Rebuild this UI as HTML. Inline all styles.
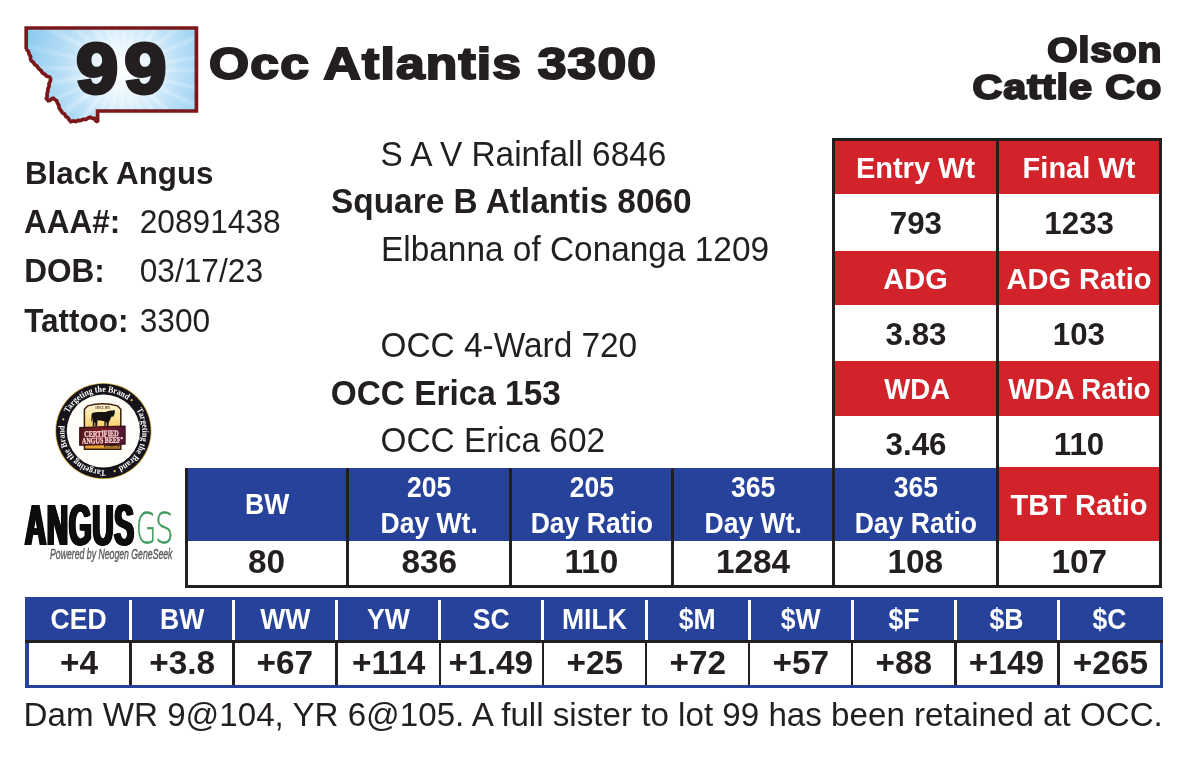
<!DOCTYPE html>
<html lang="en">
<head>
<meta charset="utf-8">
<title>Lot 99 - Occ Atlantis 3300</title>
<style>
html,body{margin:0;padding:0;background:#fff;}
body{width:1186px;height:759px;position:relative;overflow:hidden;font-family:"Liberation Sans",Arial,Helvetica,sans-serif;color:#231f20;}
.t{position:absolute;white-space:nowrap;line-height:1;margin:0;padding:0;transform-origin:0 84.65%;}
.m{transform:scaleY(1.025);}
.d{transform:scaleY(1.04);}
.b{font-weight:bold;}
.box{position:absolute;}
.cell{position:absolute;display:flex;align-items:center;justify-content:center;text-align:center;white-space:nowrap;line-height:1;}
.cell span{display:inline-block;}
.mh{line-height:35px;}
.w{color:#fff;}
.red{background:#d2232a;}
.blue{background:#27429b;}
.k{background:#231f20;}
.wbg{background:#fff;}
</style>
</head>
<body>

<!-- Montana lot badge -->
<svg class="box" style="left:18px;top:20px" width="190" height="112" viewBox="18 20 190 112">
  <defs>
    <radialGradient id="sun" cx="123" cy="70" r="100" gradientUnits="userSpaceOnUse">
      <stop offset="0" stop-color="#ffffff"/>
      <stop offset=".3" stop-color="#e2f2fc"/>
      <stop offset=".6" stop-color="#b7def6"/>
      <stop offset="1" stop-color="#8ecbf0"/>
    </radialGradient>
    <radialGradient id="rayfade" cx="123" cy="70" r="100" gradientUnits="userSpaceOnUse">
      <stop offset="0" stop-color="#fff" stop-opacity=".7"/>
      <stop offset=".55" stop-color="#fff" stop-opacity=".28"/>
      <stop offset="1" stop-color="#fff" stop-opacity=".08"/>
    </radialGradient>
    <filter id="soft" x="-10%" y="-10%" width="120%" height="120%"><feGaussianBlur stdDeviation="1.1"/></filter>
    <clipPath id="mtclip"><path d="M26.2 28 H196.4 V111 H97.6 V122.2 L95.6 120.4 L94.2 118.4 L92.4 118.4 L90.4 117.2 L88.4 118.0 L86.0 119.4 L83.0 119.4 L80.4 120.6 L78.0 120.4 L75.9 121.6 L73.4 121.0 L70.8 121.6 L69.2 120.0 L68.0 117.8 L65.8 116.4 L64.6 114.0 L62.4 112.8 L60.8 110.4 L59.2 108.0 L58.8 105.4 L57.4 103.0 L56.6 100.6 L55.0 99.8 L53.4 98.2 L51.6 98.6 L50.2 100.2 L48.2 100.6 L46.4 98.4 L47.2 96.4 L47.0 94.0 L47.8 91.4 L48.0 88.6 L49.2 86.0 L49.0 83.6 L50.2 81.4 L50.6 79.2 L49.6 77.0 L46.6 76.2 L45.0 74.4 L42.4 72.8 L41.0 70.6 L38.6 68.6 L37.2 66.2 L34.8 64.6 L33.4 62.2 L31.2 60.8 L30.4 58.6 L30.6 56.4 L29.3 54.6 L28.8 52.6 L27.6 50.2 L25.9 49.0 L26.2 49 Z"/></clipPath>
  </defs>
  <path d="M26.2 28 H196.4 V111 H97.6 V122.2 L95.6 120.4 L94.2 118.4 L92.4 118.4 L90.4 117.2 L88.4 118.0 L86.0 119.4 L83.0 119.4 L80.4 120.6 L78.0 120.4 L75.9 121.6 L73.4 121.0 L70.8 121.6 L69.2 120.0 L68.0 117.8 L65.8 116.4 L64.6 114.0 L62.4 112.8 L60.8 110.4 L59.2 108.0 L58.8 105.4 L57.4 103.0 L56.6 100.6 L55.0 99.8 L53.4 98.2 L51.6 98.6 L50.2 100.2 L48.2 100.6 L46.4 98.4 L47.2 96.4 L47.0 94.0 L47.8 91.4 L48.0 88.6 L49.2 86.0 L49.0 83.6 L50.2 81.4 L50.6 79.2 L49.6 77.0 L46.6 76.2 L45.0 74.4 L42.4 72.8 L41.0 70.6 L38.6 68.6 L37.2 66.2 L34.8 64.6 L33.4 62.2 L31.2 60.8 L30.4 58.6 L30.6 56.4 L29.3 54.6 L28.8 52.6 L27.6 50.2 L25.9 49.0 L26.2 49 Z" fill="url(#sun)"/>
  <g clip-path="url(#mtclip)"><path d="M123 70 L263.0 67.8 L262.9 74.2 Z M123 70 L259.7 100.3 L258.0 107.0 Z M123 70 L250.7 127.4 L246.7 135.5 Z M123 70 L230.2 160.0 L221.9 169.1 Z M123 70 L208.5 180.8 L202.5 185.2 Z M123 70 L183.5 196.3 L176.2 199.5 Z M123 70 L156.8 205.9 L150.5 207.3 Z M123 70 L125.4 210.0 L112.0 209.6 Z M123 70 L89.2 205.8 L77.3 202.3 Z M123 70 L60.0 195.0 L53.6 191.6 Z M123 70 L37.0 180.4 L28.7 173.4 Z M123 70 L12.3 155.8 L5.0 145.3 Z M123 70 L-4.5 127.9 L-7.0 122.0 Z M123 70 L-13.7 100.3 L-15.7 89.2 Z M123 70 L-17.0 69.9 L-16.8 62.9 Z M123 70 L-13.5 39.1 L-12.0 32.9 Z M123 70 L-1.5 6.0 L4.9 -5.2 Z M123 70 L13.8 -17.6 L19.1 -23.8 Z M123 70 L38.4 -41.6 L46.9 -47.5 Z M123 70 L65.2 -57.5 L77.0 -62.2 Z M123 70 L91.9 -66.5 L100.8 -68.2 Z M123 70 L123.8 -70.0 L133.0 -69.6 Z M123 70 L151.4 -67.1 L159.3 -65.2 Z M123 70 L186.1 -55.0 L191.4 -52.2 Z M123 70 L207.3 -41.8 L215.7 -34.9 Z M123 70 L231.3 -18.7 L237.4 -10.7 Z M123 70 L249.0 9.0 L252.5 16.8 Z M123 70 L260.4 42.9 L261.6 50.1 Z" fill="url(#rayfade)" filter="url(#soft)"/></g>
  <path d="M26.2 28 H196.4 V111 H97.6 V122.2 L95.6 120.4 L94.2 118.4 L92.4 118.4 L90.4 117.2 L88.4 118.0 L86.0 119.4 L83.0 119.4 L80.4 120.6 L78.0 120.4 L75.9 121.6 L73.4 121.0 L70.8 121.6 L69.2 120.0 L68.0 117.8 L65.8 116.4 L64.6 114.0 L62.4 112.8 L60.8 110.4 L59.2 108.0 L58.8 105.4 L57.4 103.0 L56.6 100.6 L55.0 99.8 L53.4 98.2 L51.6 98.6 L50.2 100.2 L48.2 100.6 L46.4 98.4 L47.2 96.4 L47.0 94.0 L47.8 91.4 L48.0 88.6 L49.2 86.0 L49.0 83.6 L50.2 81.4 L50.6 79.2 L49.6 77.0 L46.6 76.2 L45.0 74.4 L42.4 72.8 L41.0 70.6 L38.6 68.6 L37.2 66.2 L34.8 64.6 L33.4 62.2 L31.2 60.8 L30.4 58.6 L30.6 56.4 L29.3 54.6 L28.8 52.6 L27.6 50.2 L25.9 49.0 L26.2 49 Z" fill="none" stroke="#7a181b" stroke-width="3.7" stroke-linejoin="miter" stroke-miterlimit="1.6"/>
</svg>



<!-- Heavy headline text (lot number, animal name, owner) -->
<svg class="box" id="heavy" style="left:0;top:0" width="1186" height="135" font-family="'Liberation Sans',Arial,Helvetica,sans-serif" font-weight="bold" fill="#231f20" stroke="#231f20" stroke-linejoin="miter" stroke-miterlimit="3">
  <text id="lot" transform="translate(76.2,93.4) scale(1.073,1)" font-size="69.9" letter-spacing="6.2" stroke-width="4">99</text>
  <text id="title" transform="translate(209,79.3) scale(1.183,1.03)" font-size="43.6" letter-spacing="1" stroke-width="2">Occ Atlantis 3300</text>
  <text id="own1" transform="translate(1162.2,61.7) scale(1.115,1)" font-size="35" letter-spacing=".8" stroke-width="2" text-anchor="end">Olson</text>
  <text id="own2" transform="translate(1162.2,98.8) scale(1.18,1)" font-size="35" letter-spacing=".8" stroke-width="2" text-anchor="end">Cattle Co</text>
</svg>

<!-- Left info -->
<div class="t b m" id="breed" style="left:25px;top:157.5px;font-size:31.3px">Black Angus</div>
<div class="t b m" id="l1" style="left:24px;top:206.5px;font-size:31.5px">AAA#:</div>
<div class="t d" id="v1" style="left:139.7px;top:206.5px;font-size:31.7px">20891438</div>
<div class="t b m" id="l2" style="left:24.3px;top:256.3px;font-size:31.5px">DOB:</div>
<div class="t d" id="v2" style="left:139.7px;top:256.3px;font-size:31.7px">03/17/23</div>
<div class="t b m" id="l3" style="left:24.2px;top:306.3px;font-size:31.5px">Tattoo:</div>
<div class="t d" id="v3" style="left:139.7px;top:306.3px;font-size:31.7px">3300</div>

<!-- Pedigree -->
<div class="t m" id="p1" style="left:380.5px;top:137.5px;font-size:33.4px">S A V Rainfall 6846</div>
<div class="t b m" id="p2" style="left:331px;top:185.3px;font-size:33.4px">Square B Atlantis 8060</div>
<div class="t m" id="p3" style="left:381px;top:233.1px;font-size:33.4px">Elbanna of Conanga 1209</div>
<div class="t m" id="p4" style="left:380.5px;top:328.7px;font-size:33.4px">OCC 4-Ward 720</div>
<div class="t b m" id="p5" style="left:330.7px;top:376.5px;font-size:33.4px">OCC Erica 153</div>
<div class="t m" id="p6" style="left:380.5px;top:424.3px;font-size:33.4px">OCC Erica 602</div>

<!-- Footnote -->
<div class="t m" id="foot" style="left:23.5px;top:697.9px;font-size:33.17px">Dam WR 9@104, YR 6@105. A full sister to lot 99 has been retained at OCC.</div>

<!-- performance table -->
<div class="box red" style="left:833px;top:140.5px;width:328px;height:53.5px"></div>
<div class="box red" style="left:833px;top:251px;width:328px;height:54px"></div>
<div class="box red" style="left:833px;top:361px;width:328px;height:54.5px"></div>
<div class="cell w b" style="left:835px;top:140.5px;width:161px;height:53.5px;font-size:29px;"><span style="transform:translate(0px,0.6px) scale(1.0,1.04);">Entry Wt</span></div>
<div class="cell w b" style="left:999px;top:140.5px;width:160px;height:53.5px;font-size:29px;"><span style="transform:translate(0px,0.6px) scale(1.0,1.04);">Final Wt</span></div>
<div class="cell b" style="left:835px;top:194px;width:161px;height:57px;font-size:29.8px;"><span style="transform:translate(0px,0.3px) scale(1.05,1.04);">793</span></div>
<div class="cell b" style="left:999px;top:194px;width:160px;height:57px;font-size:29.8px;"><span style="transform:translate(0px,0.3px) scale(1.05,1.04);">1233</span></div>
<div class="cell w b" style="left:835px;top:251px;width:161px;height:54px;font-size:29px;"><span style="transform:translate(0px,0.6px) scale(1.0,1.04);">ADG</span></div>
<div class="cell w b" style="left:999px;top:251px;width:160px;height:54px;font-size:29px;"><span style="transform:translate(0px,0.6px) scale(1.0,1.04);">ADG Ratio</span></div>
<div class="cell b" style="left:835px;top:305px;width:161px;height:56px;font-size:29.8px;"><span style="transform:translate(0px,1.8px) scale(1.05,1.04);">3.83</span></div>
<div class="cell b" style="left:999px;top:305px;width:160px;height:56px;font-size:29.8px;"><span style="transform:translate(0px,1.8px) scale(1.05,1.04);">103</span></div>
<div class="cell w b" style="left:835px;top:361px;width:161px;height:54.5px;font-size:29px;"><span style="transform:translate(1.5px,0.6px) scale(0.95,1.04);">WDA</span></div>
<div class="cell w b" style="left:999px;top:361px;width:160px;height:54.5px;font-size:29px;"><span style="transform:translate(0px,0.6px) scale(0.957,1.04);">WDA Ratio</span></div>
<div class="cell b" style="left:835px;top:415.5px;width:161px;height:51.5px;font-size:29.8px;"><span style="transform:translate(0px,3.8px) scale(1.05,1.04);">3.46</span></div>
<div class="cell b" style="left:999px;top:415.5px;width:160px;height:51.5px;font-size:29.8px;"><span style="transform:translate(0px,3.8px) scale(1.05,1.04);">110</span></div>
<!-- weights table -->
<div class="box blue" style="left:186px;top:467.5px;width:811.5px;height:73.5px"></div>
<div class="box red" style="left:997.5px;top:467px;width:163.5px;height:74px"></div>
<div class="cell w b mh" style="left:187.5px;top:468px;width:158.5px;height:73px;font-size:29px;"><span style="transform:translate(0px,0px) scale(0.915,1.04);">BW</span></div>
<div class="cell w b mh" style="left:349px;top:468px;width:160px;height:73px;font-size:29px;"><span style="transform:translate(0px,0px) scale(0.915,1.04);">205<br>Day Wt.</span></div>
<div class="cell w b mh" style="left:512px;top:468px;width:159px;height:73px;font-size:29px;"><span style="transform:translate(0px,0px) scale(0.915,1.04);">205<br>Day Ratio</span></div>
<div class="cell w b mh" style="left:674px;top:468px;width:158px;height:73px;font-size:29px;"><span style="transform:translate(0px,0px) scale(0.915,1.04);">365<br>Day Wt.</span></div>
<div class="cell w b mh" style="left:835px;top:468px;width:161px;height:73px;font-size:29px;"><span style="transform:translate(0px,0px) scale(0.915,1.04);">365<br>Day Ratio</span></div>
<div class="cell w b" style="left:999px;top:467px;width:160px;height:74px;font-size:29px;"><span style="transform:translate(0px,0.5px) scale(1.0,1.04);">TBT Ratio</span></div>
<div class="cell b" style="left:187.5px;top:541px;width:158.5px;height:44.4px;font-size:31.5px;"><span style="transform:translate(0px,0px) scale(1.06,1.04);">80</span></div>
<div class="cell b" style="left:349px;top:541px;width:160px;height:44.4px;font-size:31.5px;"><span style="transform:translate(0px,0px) scale(1.06,1.04);">836</span></div>
<div class="cell b" style="left:512px;top:541px;width:159px;height:44.4px;font-size:31.5px;"><span style="transform:translate(0px,0px) scale(1.06,1.04);">110</span></div>
<div class="cell b" style="left:674px;top:541px;width:158px;height:44.4px;font-size:31.5px;"><span style="transform:translate(0px,0px) scale(1.06,1.04);">1284</span></div>
<div class="cell b" style="left:835px;top:541px;width:161px;height:44.4px;font-size:31.5px;"><span style="transform:translate(0px,0px) scale(1.06,1.04);">108</span></div>
<div class="cell b" style="left:999px;top:541px;width:160px;height:44.4px;font-size:31.5px;"><span style="transform:translate(0px,0px) scale(1.06,1.04);">107</span></div>
<!-- borders -->
<div class="box k" style="left:832px;top:138px;width:330px;height:2.7px"></div>
<div class="box k" style="left:832px;top:138px;width:3px;height:330px"></div>
<div class="box k" style="left:1159px;top:138px;width:3px;height:449.7px"></div>
<div class="box k" style="left:996px;top:138px;width:3px;height:449.7px"></div>
<div class="box k" style="left:184.5px;top:467.5px;width:3.0px;height:120.2px"></div>
<div class="box k" style="left:184.5px;top:585.2px;width:977.5px;height:2.5px"></div>
<div class="box k" style="left:346px;top:467.5px;width:3px;height:120.2px"></div>
<div class="box k" style="left:509px;top:467.5px;width:3px;height:120.2px"></div>
<div class="box k" style="left:671px;top:467.5px;width:3px;height:120.2px"></div>
<div class="box k" style="left:832px;top:467.5px;width:3px;height:120.2px"></div>
<!-- EPD table -->
<div class="box blue" style="left:25px;top:597px;width:1138px;height:91px"></div>
<div class="box wbg" style="left:28.7px;top:642.8px;width:1131.5px;height:42.2px"></div>
<div class="box k" style="left:25px;top:640.3px;width:1138px;height:2.5px"></div>
<div class="cell w b" style="left:28.7px;top:599px;width:100.4px;height:41.3px;font-size:29px;"><span style="transform:translate(0px,0px) scale(0.915,1.04);">CED</span></div>
<div class="cell b" style="left:28.7px;top:642.8px;width:100.4px;height:42.2px;font-size:31.5px;"><span style="transform:translate(0px,-0.5px) scale(1.06,1.04);">+4</span></div>
<div class="cell w b" style="left:131.9px;top:599px;width:100.3px;height:41.3px;font-size:29px;"><span style="transform:translate(0px,0px) scale(0.915,1.04);">BW</span></div>
<div class="cell b" style="left:131.9px;top:642.8px;width:100.3px;height:42.2px;font-size:31.5px;"><span style="transform:translate(0px,-0.5px) scale(1.06,1.04);">+3.8</span></div>
<div class="cell w b" style="left:235.0px;top:599px;width:100.3px;height:41.3px;font-size:29px;"><span style="transform:translate(0px,0px) scale(0.915,1.04);">WW</span></div>
<div class="cell b" style="left:235.0px;top:642.8px;width:100.3px;height:42.2px;font-size:31.5px;"><span style="transform:translate(0px,-0.5px) scale(1.06,1.04);">+67</span></div>
<div class="cell w b" style="left:338.09999999999997px;top:599px;width:100.3px;height:41.3px;font-size:29px;"><span style="transform:translate(0px,0px) scale(0.915,1.04);">YW</span></div>
<div class="cell b" style="left:338.09999999999997px;top:642.8px;width:100.3px;height:42.2px;font-size:31.5px;"><span style="transform:translate(0px,-0.5px) scale(1.06,1.04);">+114</span></div>
<div class="cell w b" style="left:441.19999999999993px;top:599px;width:100.3px;height:41.3px;font-size:29px;"><span style="transform:translate(0px,0px) scale(0.915,1.04);">SC</span></div>
<div class="cell b" style="left:441.19999999999993px;top:642.8px;width:100.3px;height:42.2px;font-size:31.5px;"><span style="transform:translate(0px,-0.5px) scale(1.06,1.04);">+1.49</span></div>
<div class="cell w b" style="left:544.3px;top:599px;width:100.3px;height:41.3px;font-size:29px;"><span style="transform:translate(0px,0px) scale(0.915,1.04);">MILK</span></div>
<div class="cell b" style="left:544.3px;top:642.8px;width:100.3px;height:42.2px;font-size:31.5px;"><span style="transform:translate(0px,-0.5px) scale(1.06,1.04);">+25</span></div>
<div class="cell w b" style="left:647.4px;top:599px;width:100.3px;height:41.3px;font-size:29px;"><span style="transform:translate(0px,0px) scale(0.915,1.04);">$M</span></div>
<div class="cell b" style="left:647.4px;top:642.8px;width:100.3px;height:42.2px;font-size:31.5px;"><span style="transform:translate(0px,-0.5px) scale(1.06,1.04);">+72</span></div>
<div class="cell w b" style="left:750.4999999999999px;top:599px;width:100.3px;height:41.3px;font-size:29px;"><span style="transform:translate(0px,0px) scale(0.915,1.04);">$W</span></div>
<div class="cell b" style="left:750.4999999999999px;top:642.8px;width:100.3px;height:42.2px;font-size:31.5px;"><span style="transform:translate(0px,-0.5px) scale(1.06,1.04);">+57</span></div>
<div class="cell w b" style="left:853.5999999999999px;top:599px;width:100.3px;height:41.3px;font-size:29px;"><span style="transform:translate(0px,0px) scale(0.915,1.04);">$F</span></div>
<div class="cell b" style="left:853.5999999999999px;top:642.8px;width:100.3px;height:42.2px;font-size:31.5px;"><span style="transform:translate(0px,-0.5px) scale(1.06,1.04);">+88</span></div>
<div class="cell w b" style="left:956.6999999999999px;top:599px;width:100.3px;height:41.3px;font-size:29px;"><span style="transform:translate(0px,0px) scale(0.915,1.04);">$B</span></div>
<div class="cell b" style="left:956.6999999999999px;top:642.8px;width:100.3px;height:42.2px;font-size:31.5px;"><span style="transform:translate(0px,-0.5px) scale(1.06,1.04);">+149</span></div>
<div class="cell w b" style="left:1059.8000000000002px;top:599px;width:100.4px;height:41.3px;font-size:29px;"><span style="transform:translate(0px,0px) scale(0.915,1.04);">$C</span></div>
<div class="cell b" style="left:1059.8000000000002px;top:642.8px;width:100.4px;height:42.2px;font-size:31.5px;"><span style="transform:translate(0px,-0.5px) scale(1.06,1.04);">+265</span></div>
<div class="box wbg" style="left:129.0px;top:600px;width:3.0px;height:40px"></div>
<div class="box k" style="left:129.2px;top:640.3px;width:2.6px;height:44.9px"></div>
<div class="box wbg" style="left:232.1px;top:600px;width:3.0px;height:40px"></div>
<div class="box k" style="left:232.3px;top:640.3px;width:2.6px;height:44.9px"></div>
<div class="box wbg" style="left:335.2px;top:600px;width:3.0px;height:40px"></div>
<div class="box k" style="left:335.4px;top:640.3px;width:2.6px;height:44.9px"></div>
<div class="box wbg" style="left:438.3px;top:600px;width:3.0px;height:40px"></div>
<div class="box k" style="left:438.5px;top:640.3px;width:2.6px;height:44.9px"></div>
<div class="box wbg" style="left:541.4px;top:600px;width:3.0px;height:40px"></div>
<div class="box k" style="left:541.6px;top:640.3px;width:2.6px;height:44.9px"></div>
<div class="box wbg" style="left:644.5px;top:600px;width:3.0px;height:40px"></div>
<div class="box k" style="left:644.7px;top:640.3px;width:2.6px;height:44.9px"></div>
<div class="box wbg" style="left:747.6px;top:600px;width:3.0px;height:40px"></div>
<div class="box k" style="left:747.8px;top:640.3px;width:2.6px;height:44.9px"></div>
<div class="box wbg" style="left:850.7px;top:600px;width:3.0px;height:40px"></div>
<div class="box k" style="left:850.9px;top:640.3px;width:2.6px;height:44.9px"></div>
<div class="box wbg" style="left:953.8px;top:600px;width:3.0px;height:40px"></div>
<div class="box k" style="left:954.0px;top:640.3px;width:2.6px;height:44.9px"></div>
<div class="box wbg" style="left:1056.9px;top:600px;width:3.0px;height:40px"></div>
<div class="box k" style="left:1057.1px;top:640.3px;width:2.6px;height:44.9px"></div>
<!-- Certified Angus Beef "Targeting the Brand" seal -->
<svg class="box" id="cab" style="left:50px;top:378px" width="108" height="108" viewBox="50 378 108 108">
  <defs>
    <linearGradient id="gold" x1="0" y1="403" x2="0" y2="450" gradientUnits="userSpaceOnUse">
      <stop offset="0" stop-color="#fdf6dc"/>
      <stop offset=".35" stop-color="#fbe08a"/>
      <stop offset=".7" stop-color="#f2b84b"/>
      <stop offset="1" stop-color="#e59a2f"/>
    </linearGradient>
    <linearGradient id="bnr" x1="79" y1="0" x2="126" y2="0" gradientUnits="userSpaceOnUse">
      <stop offset="0" stop-color="#4a1a16"/>
      <stop offset=".4" stop-color="#7d1a25"/>
      <stop offset="1" stop-color="#4c1836"/>
    </linearGradient>
    <path id="ring1" d="M103.4 431 m-39 0 a39 39 0 1 1 78 0 a39 39 0 1 1 -78 0"/>
  </defs>
  <circle cx="103.4" cy="431" r="48.1" fill="#d9b54a"/>
  <circle cx="103.4" cy="431" r="47.3" fill="#17131a"/>
  <circle cx="103.4" cy="431" r="36.6" fill="#fffdf8"/>
  <g font-family="'Liberation Serif','DejaVu Serif',serif" font-weight="bold" font-size="9" fill="#fff">
    <text transform="rotate(27 103.4 431)"><textPath href="#ring1" startOffset="0" textLength="68.5" lengthAdjust="spacingAndGlyphs">Targeting the Brand</textPath></text>
    <text transform="rotate(147 103.4 431)"><textPath href="#ring1" startOffset="0" textLength="68.5" lengthAdjust="spacingAndGlyphs">Targeting the Brand</textPath></text>
    <text transform="rotate(267 103.4 431)"><textPath href="#ring1" startOffset="0" textLength="68.5" lengthAdjust="spacingAndGlyphs">Targeting the Brand</textPath></text>
  </g>
  <g fill="#e7c660">
    <circle cx="131.6" cy="400.2" r="1.1"/>
    <circle cx="114.6" cy="471.2" r="1.1"/>
    <circle cx="63.3" cy="419.3" r="1.1"/>
  </g>
  <!-- shield -->
  <path d="M84.4 409.3 L87.6 405.9 Q102.6 401.6 117.6 405.9 L120.8 409.3 V449.2 H84.4 Z" fill="url(#gold)" stroke="#3f1e08" stroke-width="1.5" stroke-linejoin="round"/>
  <text x="102.6" y="408.6" font-family="'Liberation Serif',serif" font-weight="bold" font-size="3.4" fill="#3a2a1a" text-anchor="middle" textLength="14.5" lengthAdjust="spacingAndGlyphs">SINCE 1978</text>
  <!-- steer -->
  <path d="M91.2 421.6 L91.5 414.5 L92.6 412.8 L98.1 412 L105.5 411.9 L108.5 411.1 L111.4 410.5 L112.8 410.6 L114 410 L115 410.9 L114.5 413.9 L113.4 416.5 L111.4 416.8 L110.7 418.3 L109.6 420.9 L108.6 422.4 L108.5 426.4 L106.7 426.4 L106.6 422.7 L105.8 421.8 L105.5 426.4 L104.3 426.4 L104.4 421.2 L100.4 420.6 L97.5 420.2 L97.4 422.4 L97.1 426.4 L95.3 426.4 L95.3 423.1 L94.5 422 L94.3 426.4 L92.8 426.4 L92.8 422.4 L92.3 417.5 L91.9 421.6 Z" fill="#15110f"/>
  <path d="M85 428.6 Q100 424.6 120.2 426.6 V429 H85 Z" fill="#c8641e"/>
  <!-- banner -->
  <path d="M79.7 427.6 L125.1 426 L125.1 444.1 L79.7 445.3 Z" fill="url(#bnr)" stroke="#33101a" stroke-width="1.1" stroke-linejoin="round"/>
  <g font-family="'Liberation Serif','DejaVu Serif',serif" font-weight="bold" fill="#fbdcd8" stroke="#fbdcd8" stroke-width=".25" transform="rotate(-1.6 102.4 436)">
    <text x="84.2" y="436.5" font-size="8.6" textLength="34.6" lengthAdjust="spacingAndGlyphs">CERTIFIED</text>
    <text x="81.9" y="443.2" font-size="8.6" textLength="38.6" lengthAdjust="spacingAndGlyphs">ANGUS BEEF</text>
    <text x="121" y="439.6" font-size="2.6" font-weight="normal">®</text>
  </g>
  <rect x="104" y="445" width="15.5" height="2.4" fill="#4a2a12"/>
  <text x="111.7" y="447" font-family="'Liberation Sans',sans-serif" font-size="2.2" font-weight="bold" fill="#f2c65a" text-anchor="middle" textLength="13" lengthAdjust="spacingAndGlyphs">BRAND</text>
</svg>

<!-- AngusGS logo -->
<div class="t" id="angus" style="left:24.8px;top:495.6px;font-size:58px;font-weight:bold;color:#0d0d0d;letter-spacing:1.5px;transform:scaleX(.505);transform-origin:0 0;text-shadow:1px 0 0 #0d0d0d,-1px 0 0 #0d0d0d,2px 0 0 #0d0d0d,-2px 0 0 #0d0d0d,2.8px 0 0 #0d0d0d,-2.8px 0 0 #0d0d0d">ANGUS</div>
<div class="t" id="gs" style="left:135.8px;top:507.2px;font-family:'DejaVu Sans','Liberation Sans',sans-serif;font-weight:200;font-size:43.3px;color:#3f9a5a;-webkit-text-stroke:.5px #3f9a5a;transform:scaleX(.6);transform-origin:0 0">G</div>
<div class="t" id="gs2" style="left:155px;top:507.2px;font-family:'DejaVu Sans','Liberation Sans',sans-serif;font-weight:200;font-size:43.3px;color:#3f9a5a;-webkit-text-stroke:.5px #3f9a5a;transform:scaleX(.676);transform-origin:0 0">S</div>
<div class="t" id="pwr" style="left:49.6px;top:547.3px;font-size:14px;font-style:italic;color:#58595b;-webkit-text-stroke:.35px #58595b;transform:scaleX(.622);transform-origin:0 0">Powered by Neogen GeneSeek</div>
</body></html>
